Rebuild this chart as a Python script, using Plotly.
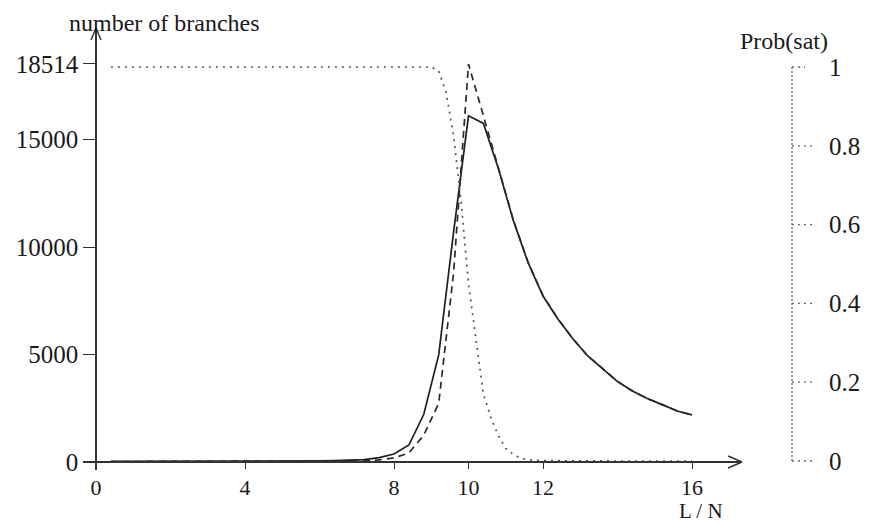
import plotly.graph_objects as go

# ---------------- data ----------------
L = [0.4, 0.8, 1.2, 1.6, 2.0, 2.4, 2.8, 3.2, 3.6, 4.0, 4.4, 4.8, 5.2, 5.6, 6.0,
     6.4, 6.8, 7.2, 7.6, 8.0, 8.4, 8.8, 9.2, 9.6, 10.0, 10.4, 10.8, 11.2, 11.6,
     12.0, 12.4, 12.8, 13.2, 13.6, 14.0, 14.4, 14.8, 15.2, 15.6, 16.0]

branches_solid = [30, 30, 30, 30, 30, 30, 30, 35, 35, 35, 40, 40, 45, 50, 55,
                  65, 80, 110, 200, 370, 790, 2220, 4980, 10700, 16100, 15750,
                  13660, 11250, 9270, 7720, 6650, 5730, 4930, 4330, 3740, 3300,
                  2950, 2670, 2370, 2190]

branches_dashed = [20, 20, 20, 20, 20, 20, 20, 20, 25, 25, 25, 25, 30, 30, 30,
                   35, 40, 55, 100, 190, 420, 1250, 2730, 8800, 18514, 16100,
                   13700, 11280, 9290, 7740, 6660, 5740, 4940, 4330, 3750, 3300,
                   2950, 2670, 2380, 2190]

prob_L = [0.4, 2.0, 4.0, 6.0, 8.0, 8.8, 9.0, 9.2, 9.4, 9.6, 9.8, 10.0, 10.2,
          10.4, 10.6, 10.8, 11.0, 11.2, 11.4, 11.6, 12.0, 13.0, 14.0, 15.0, 16.0]
prob_sat = [1.0, 1.0, 1.0, 1.0, 1.0, 1.0, 1.0, 0.99, 0.935, 0.825, 0.66, 0.45,
            0.31, 0.17, 0.11, 0.065, 0.032, 0.017, 0.007, 0.003, 0.001, 0.0,
            0.0, 0.0, 0.0]

x_ticks = [0, 4, 8, 10, 12, 16]
y_ticks = [0, 5000, 10000, 15000, 18514]
y_ticktext = ["0", "5000", "10000", "15000", "18514"]
p_ticks = [0, 0.2, 0.4, 0.6, 0.8, 1]
p_ticktext = ["0", "0.2", "0.4", "0.6", "0.8", "1"]

# ---------------- layout geometry (window pixels) ----------------
OFF = 8                       # page body margin
W, H = 870 - OFF, 525 - OFF   # figure size
PLOT_L, PLOT_R, PLOT_T, PLOT_B = 83, 850, 28, 470   # plot area in window px
ML = PLOT_L - OFF
MR = W - (PLOT_R - OFF)
MT = PLOT_T - OFF
MB = H - (PLOT_B - OFF)
PW = PLOT_R - PLOT_L
PH = PLOT_B - PLOT_T


def px(xp):
    return (xp - PLOT_L) / PW


def py(yp):
    return (PLOT_B - yp) / PH


X0PX, XK = 96, 37.25          # pixel of L=0, pixels per unit
Y0PX, YK = 462, 0.0215        # pixel of 0 branches, pixels per branch
P0PX, PK = 461, 394.0         # pixel of prob 0, pixels per unit prob
XEND = 742

FONT = "Liberation Serif"
INK = "#1a1a1a"
AX = "#333333"

fig = go.Figure()
fig.add_trace(go.Scatter(x=L, y=branches_solid, mode="lines",
                         line=dict(color="#1f1f1f", width=1.7),
                         showlegend=False, hoverinfo="skip"))
fig.add_trace(go.Scatter(x=L, y=branches_dashed, mode="lines",
                         line=dict(color="#2a2a2a", width=1.7, dash="7px,5px"),
                         showlegend=False, hoverinfo="skip"))
fig.add_trace(go.Scatter(x=prob_L, y=prob_sat, mode="lines", yaxis="y2",
                         line=dict(color="#555555", width=1.7, dash="2px,5px"),
                         showlegend=False, hoverinfo="skip"))

shapes = []
# right dotted axis
rx = px(792)
shapes.append(dict(type="line", xref="paper", yref="y2", x0=rx, x1=rx, y0=0, y1=1,
                   line=dict(color="#666666", width=1.3, dash="2px,2px")))
for v in p_ticks:
    x_end = 805 if v == 1 else 812
    shapes.append(dict(type="line", xref="paper", yref="y2", x0=rx, x1=px(x_end),
                       y0=v, y1=v, line=dict(color="#666666", width=1.3, dash="2px,4px")))
# arrowheads (open chevrons)
shapes.append(dict(type="line", xref="paper", yref="paper", x0=px(91), y0=py(40),
                   x1=px(96), y1=py(28), line=dict(color=AX, width=1.5)))
shapes.append(dict(type="line", xref="paper", yref="paper", x0=px(101), y0=py(40),
                   x1=px(96), y1=py(28), line=dict(color=AX, width=1.5)))
shapes.append(dict(type="line", xref="paper", yref="paper", x0=px(728), y0=py(456),
                   x1=px(XEND), y1=py(Y0PX), line=dict(color=AX, width=1.5)))
shapes.append(dict(type="line", xref="paper", yref="paper", x0=px(728), y0=py(468),
                   x1=px(XEND), y1=py(Y0PX), line=dict(color=AX, width=1.5)))

annotations = [
    dict(text="number of branches", xref="paper", yref="paper", x=px(164), y=py(23),
         xanchor="center", yanchor="middle", showarrow=False,
         font=dict(family=FONT, size=24, color=INK)),
    dict(text="Prob(sat)", xref="paper", yref="paper", x=px(784), y=py(41),
         xanchor="center", yanchor="middle", showarrow=False,
         font=dict(family=FONT, size=24, color=INK)),
    dict(text="L / N", xref="paper", yref="paper", x=px(701), y=py(511),
         xanchor="center", yanchor="middle", showarrow=False,
         font=dict(family=FONT, size=21, color=INK)),
]

fig.update_layout(
    width=W, height=H,
    margin=dict(l=ML, r=MR, t=MT, b=MB, autoexpand=False),
    paper_bgcolor="white", plot_bgcolor="white",
    font=dict(family=FONT, size=22, color=INK),
    xaxis=dict(domain=[0, px(XEND)], anchor="free", position=py(Y0PX),
               range=[(PLOT_L - X0PX) / XK, (XEND - X0PX) / XK],
               showgrid=False, zeroline=False, showline=True, linecolor=AX,
               linewidth=1.5, ticks="outside", ticklen=6, tickcolor=AX,
               tickwidth=1.3, tickvals=x_ticks, ticklabelstandoff=0,
               tickfont=dict(family=FONT, size=22, color=INK), automargin=False),
    yaxis=dict(domain=[0, 1], anchor="free", position=px(X0PX),
               range=[-(PLOT_B - Y0PX) / YK, (Y0PX - PLOT_T) / YK],
               showgrid=False, zeroline=False, showline=True, linecolor=AX,
               linewidth=1.5, ticks="outside", ticklen=12, tickcolor=AX,
               tickwidth=1.3, tickvals=y_ticks, ticktext=y_ticktext,
               ticklabelstandoff=0,
               tickfont=dict(family=FONT, size=25, color=INK), automargin=False),
    yaxis2=dict(overlaying="y", anchor="free", position=px(812), side="right",
                range=[-(PLOT_B - P0PX) / PK, (P0PX - PLOT_T) / PK],
                showgrid=False, zeroline=False, showline=False, ticks="",
                tickvals=p_ticks, ticktext=p_ticktext, ticklabelstandoff=16,
                tickfont=dict(family=FONT, size=25, color=INK), automargin=False),
    shapes=shapes,
    annotations=annotations,
)

fig.write_html("out.html")
